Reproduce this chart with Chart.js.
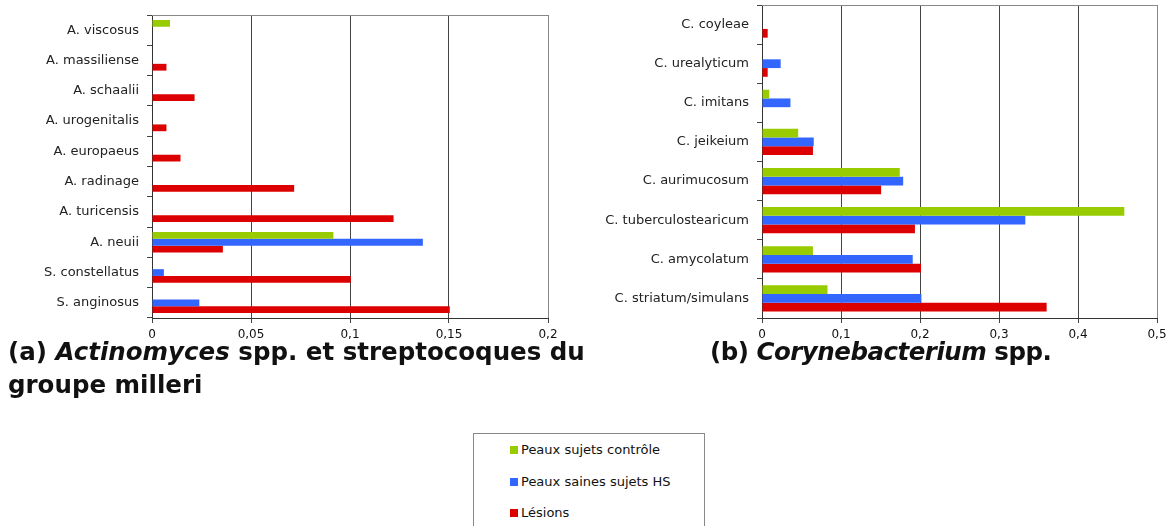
<!DOCTYPE html>
<html>
<head>
<meta charset="utf-8">
<script src="https://cdn.jsdelivr.net/npm/chart.js@4.4.1/dist/chart.umd.min.js"></script>
<style>
body { margin: 0; width: 1175px; height: 526px; background: #fff; overflow: hidden; position: relative; font-family: 'DejaVu Sans', sans-serif; }
#wrapA { position: absolute; left: 0; top: 0; width: 565px; height: 345px; }
#wrapB { position: absolute; left: 580px; top: 0; width: 595px; height: 345px; }
.cap { position: absolute; font-family: 'DejaVu Sans', sans-serif; font-weight: bold; font-size: 24.5px; line-height: 33px; color: #111; white-space: nowrap; }
#capA { left: 8px; top: 335px; }
#capB { left: 710px; top: 335px; letter-spacing: -0.5px; }
#legend { position: absolute; left: 473px; top: 433px; width: 230px; height: 100px; border: 1px solid #888; }
.item { position: absolute; left: 36px; font-size: 13px; color: #111; height: 16px; line-height: 16px; white-space: nowrap; }
.item span { display: inline-block; width: 8px; height: 8px; margin-right: 3px; vertical-align: 0px; }
</style>
</head>
<body>
<div id="wrapA"><canvas id="chartA"></canvas></div>
<div id="wrapB"><canvas id="chartB"></canvas></div>
<div class="cap" id="capA">(a) <i>Actinomyces</i> spp. et streptocoques du<br>groupe milleri</div>
<div class="cap" id="capB">(b) <i>Corynebacterium</i> spp.</div>
<div id="legend"></div>
<script>
const seriesNames = ['Peaux sujets contrôle', 'Peaux saines sujets HS', 'Lésions'];
const seriesColors = ['#99cc00', '#3366ff', '#dd0000'];

const labelsA = ['A. viscosus', 'A. massiliense', 'A. schaalii', 'A. urogenitalis', 'A. europaeus',
    'A. radinage', 'A. turicensis', 'A. neuii', 'S. constellatus', 'S. anginosus'];
const controleA = [0.0091, null, null, null, null, null, null, 0.0916, null, null];
const sainesA = [null, null, null, null, null, null, null, 0.1368, 0.006, 0.0239];
const lesionsA = [null, 0.0073, 0.0215, 0.0073, 0.0144, 0.0718, 0.122, 0.0358, 0.1004, 0.1504];

const labelsB = ['C. coyleae', 'C. urealyticum', 'C. imitans', 'C. jeikeium', 'C. aurimucosum',
    'C. tuberculostearicum', 'C. amycolatum', 'C. striatum/simulans'];
const controleB = [null, null, 0.0092, 0.0458, 0.1744, 0.4586, 0.0645, 0.0829];
const sainesB = [null, 0.0236, 0.036, 0.0655, 0.1787, 0.3333, 0.1908, 0.2018];
const lesionsB = [0.0072, 0.0072, null, 0.0645, 0.1508, 0.1936, 0.2013, 0.3603];

const frame = {
    id: 'frame',
    afterDraw(chart) {
        const { ctx, chartArea: a } = chart;
        ctx.save();
        ctx.strokeStyle = '#888';
        ctx.lineWidth = 1;
        ctx.beginPath();
        ctx.moveTo(a.left, Math.round(a.top) + 0.5);
        ctx.lineTo(a.right, Math.round(a.top) + 0.5);
        ctx.stroke();
        ctx.restore();
    }
};

const fmt = v => String(Number(v.toFixed(2))).replace('.', ',');

function makeChart(id, labels, series, max, step, axisWidth, topPad, rightPad) {
    return new Chart(document.getElementById(id), {
        type: 'bar',
        data: {
            labels: labels,
            datasets: series.map((d, i) => ({
                label: seriesNames[i], data: d, backgroundColor: seriesColors[i],
                borderWidth: 0, categoryPercentage: 0.67, barPercentage: 1
            }))
        },
        options: {
            indexAxis: 'y', responsive: true, maintainAspectRatio: false, animation: false,
            layout: { padding: { top: topPad, right: rightPad, left: 0, bottom: 0 } },
            plugins: { legend: { display: false }, tooltip: { enabled: false } },
            scales: {
                x: {
                    min: 0, max: max,
                    afterFit: s => { s.height = 27; },
                    border: { color: '#333' },
                    grid: { color: c => c.index === Math.round(max / step) ? '#888' : '#444', tickLength: 5, tickColor: '#444' },
                    ticks: { stepSize: step, color: '#111', padding: 5, font: { family: "'DejaVu Sans', sans-serif", size: 12 }, callback: v => fmt(v) }
                },
                y: {
                    afterFit: s => { s.width = axisWidth; s.paddingTop = 0; s.paddingBottom = 0; },
                    border: { color: '#333' },
                    grid: { drawOnChartArea: false, offset: true, tickLength: 5, tickColor: '#444' },
                    ticks: { color: '#222', padding: 8, font: { family: "'DejaVu Sans', sans-serif", size: 13 } }
                }
            }
        },
        plugins: [frame]
    });
}

makeChart('chartA', labelsA, [controleA, sainesA, lesionsA], 0.2, 0.05, 152, 15, 17);
makeChart('chartB', labelsB, [controleB, sainesB, lesionsB], 0.5, 0.1, 182, 5, 18);

const legend = document.getElementById('legend');
seriesNames.forEach((n, i) => {
    const d = document.createElement('div');
    d.className = 'item';
    d.style.top = (8 + i * 31.5) + 'px';
    d.innerHTML = '<span style="background:' + seriesColors[i] + '"></span>' + n;
    legend.appendChild(d);
});
</script>
</body>
</html>
